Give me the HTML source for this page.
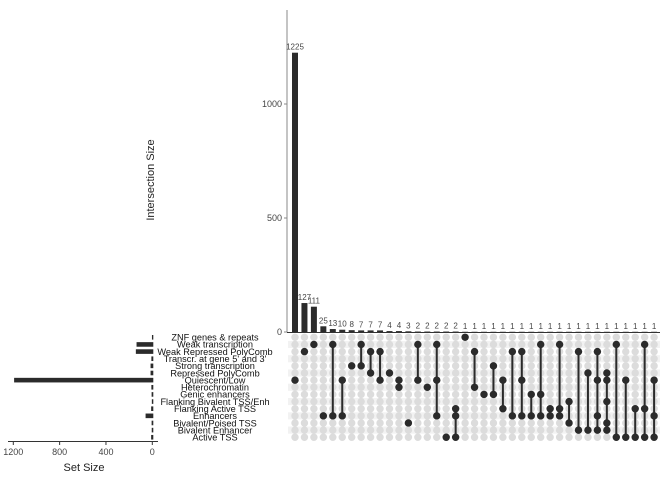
<!DOCTYPE html>
<html><head><meta charset="utf-8"><style>
body{margin:0;background:#fff;}
svg text{font-family:"Liberation Sans",sans-serif;}
</style></head><body>
<svg id="c" width="672" height="480"></svg>
<script>
const setNames=["ZNF genes & repeats","Weak transcription","Weak Repressed PolyComb","Transcr. at gene 5' and 3'","Strong transcription","Repressed PolyComb","Quiescent/Low","Heterochromatin","Genic enhancers","Flanking Bivalent TSS/Enh","Flanking Active TSS","Enhancers","Bivalent/Poised TSS","Bivalent Enhancer","Active TSS"];
const setSizes=[3,136,142,8,15,15,1193,8,6,4,10,58,6,5,10];
const counts=[1225,127,111,25,13,10,8,7,7,7,4,4,3,2,2,2,2,2,1,1,1,1,1,1,1,1,1,1,1,1,1,1,1,1,1,1,1,1,1];
const members=[[6],[2],[1],[11],[1,11],[6,11],[4],[1,4],[2,5],[2,6],[5],[6,7],[12],[1,6],[7],[1,6,11],[14],[10,11,14],[0],[2,7],[8],[4,8],[6,10],[2,11],[2,6,11],[8,11],[1,8,11],[10,11],[1,10,11],[9,12],[2,13],[5,13],[2,6,11,13],[5,6,9,12,13],[1,14],[6,14],[10,14],[1,10,14],[6,11,14]];
const yTicks=[0,500,1000];
const xTicks=[1200,800,400,0];

const NS="http://www.w3.org/2000/svg";
const svg=document.getElementById('c');
function mk(t,a,p){const e=document.createElementNS(NS,t);for(const k in a)e.setAttribute(k,a[k]);(p||svg).appendChild(e);return e;}
const colX=i=>295+i*9.45;
const rowY=r=>337.3+r*7.14;
const yScale=v=>332-v*0.228;
const sScale=v=>152.3-v*(139/1200);

for(let r=0;r<setNames.length;r++){ if(r%2===1){const s=mk('rect',{x:288,y:rowY(r)-3.57,width:372,height:7.14,fill:'#f2f2f2'});
}}

let ax=mk('line',{x1:287,y1:10,x2:287,y2:332,stroke:'#888','stroke-width':1});

let bl=mk('line',{x1:287,y1:332.5,x2:660,y2:332.5,stroke:'#333','stroke-width':1});

yTicks.forEach(v=>{
 mk('line',{x1:284,y1:yScale(v),x2:287,y2:yScale(v),stroke:'#888'});
 const t=mk('text',{x:282,y:yScale(v)+3,'text-anchor':'end','font-size':9,fill:'#444'});t.textContent=v;
 
});
let yt=mk('text',{x:154,y:180,'text-anchor':'middle','font-size':11,fill:'#222',transform:'rotate(-90 154 180)'});
yt.textContent='Intersection Size';

counts.forEach((v,i)=>{
 const b=mk('rect',{x:colX(i)-3,y:yScale(v),width:6,height:332-yScale(v),fill:'#2b2b2b'});
 
 const t=mk('text',{x:colX(i),y:yScale(v)-3,'text-anchor':'middle','font-size':8,fill:'#444'});t.textContent=v;
 
});

members.forEach((m,i)=>{
 for(let r=0;r<setNames.length;r++){
  const d=mk('circle',{cx:colX(i),cy:rowY(r),r:3.7,fill:'#dcdcdc'});
  
 }
 if(m.length>1){const l=mk('line',{x1:colX(i),y1:rowY(Math.min(...m)),x2:colX(i),y2:rowY(Math.max(...m)),stroke:'#2b2b2b','stroke-width':2});
 }
 m.forEach(r=>{const d=mk('circle',{cx:colX(i),cy:rowY(r),r:3.7,fill:'#2b2b2b'});
 });
});

setNames.forEach((n,r)=>{
 const t=mk('text',{x:215,y:rowY(r)+3.3,'text-anchor':'middle','font-size':9.2,fill:'#111'});t.textContent=n;
 
});

setSizes.forEach((v,r)=>{
 const b=mk('rect',{x:sScale(v),y:rowY(r)-2.3,width:152.3-sScale(v)+1,height:4.6,fill:'#2b2b2b'});
 
});
let sx=mk('line',{x1:8,y1:441.5,x2:158,y2:441.5,stroke:'#333'});

xTicks.forEach(v=>{
 mk('line',{x1:sScale(v),y1:441.5,x2:sScale(v),y2:445,stroke:'#333'});
 const t=mk('text',{x:sScale(v),y:455,'text-anchor':'middle','font-size':9,fill:'#444'});t.textContent=v;
 
});
let st=mk('text',{x:84,y:471,'text-anchor':'middle','font-size':11,fill:'#222'});
st.textContent='Set Size';
</script>
</body></html>
